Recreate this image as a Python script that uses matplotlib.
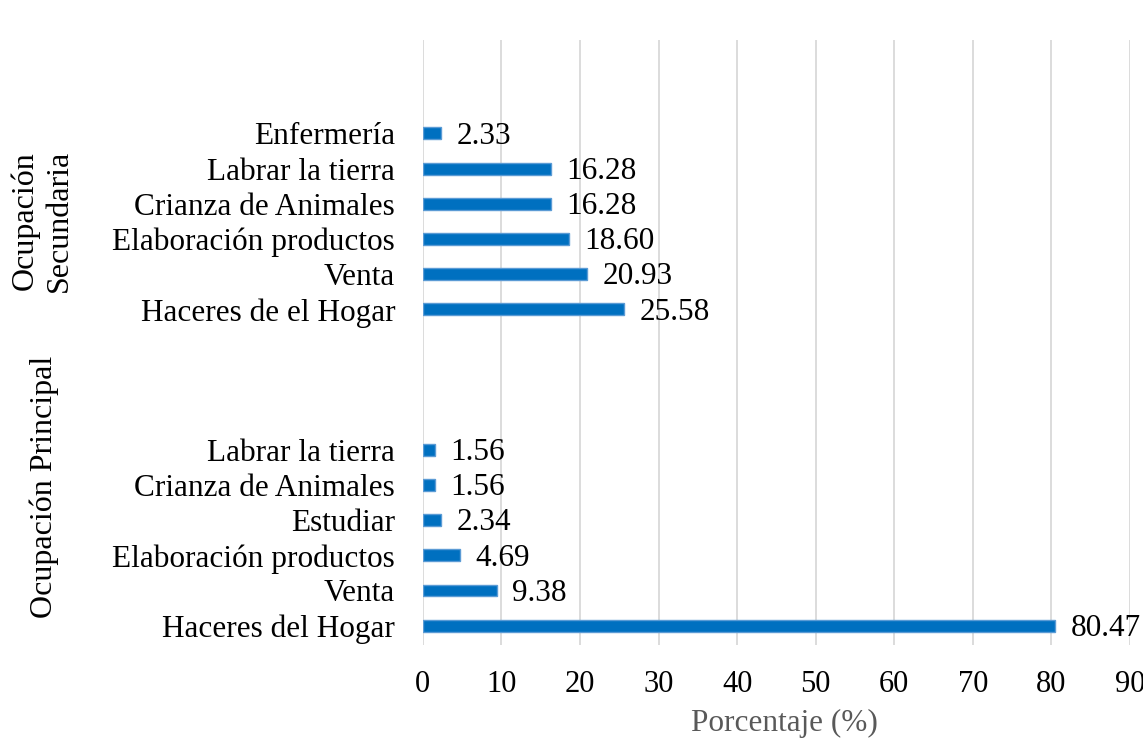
import numpy as np
import matplotlib
matplotlib.use('Agg')
import matplotlib.pyplot as plt

plt.rcParams['font.family'] = ['Liberation Serif', 'DejaVu Serif']

# data, bottom to top
principal_labels = ['Haceres del Hogar', 'Venta', 'Elaboración productos',
                    'Estudiar', 'Crianza de Animales', 'Labrar la tierra']
principal_values = [80.47, 9.38, 4.69, 2.34, 1.56, 1.56]
secundaria_labels = ['Haceres de el Hogar', 'Venta', 'Elaboración productos',
                     'Crianza de Animales', 'Labrar la tierra', 'Enfermería']
secundaria_values = [25.58, 20.93, 18.60, 16.28, 16.28, 2.33]
group_names = ['Ocupación Principal', 'Ocupación\nSecundaria']

labels = principal_labels + secundaria_labels
values = principal_values + secundaria_values
pos = np.concatenate([np.arange(6), np.arange(6) + 9])

fig = plt.figure(figsize=(11.43, 7.4), dpi=100)
ax = fig.add_axes([0.370, 0.1284, 0.6186, 0.8176])

ax.barh(pos, values, height=0.34, color='#0070C0', edgecolor='#5B9BD5',
        linewidth=1.0, zorder=3)
for p, v in zip(pos, values):
    ax.annotate('%.2f' % v, (v, p), xytext=(11, -2), textcoords='offset points',
                va='center', ha='left', fontsize=22.5)

ax.set_xlim(0, 90)
ax.set_ylim(-0.55, 16.66)
ax.set_xticks(np.arange(0, 91, 10))
ax.set_yticks(pos)
ax.set_yticklabels(labels)
ax.tick_params(axis='both', length=0)
ax.tick_params(axis='y', pad=20, labelsize=22.5)
ax.tick_params(axis='x', pad=18, labelsize=22)
ax.grid(axis='x', color='#d9d9d9', linewidth=1.3, zorder=0)
for s in ax.spines.values():
    s.set_visible(False)

ax.set_xlabel('Porcentaje (%)', fontsize=22.5, color='#595959')
ax.xaxis.set_label_coords(0.511, -0.105)

fig.text(44 / 1143, 1 - 487 / 740, group_names[0], rotation=90,
         ha='center', va='center', fontsize=23)
fig.text(42 / 1143, 1 - 221 / 740, group_names[1], rotation=90,
         ha='center', va='center', fontsize=23, multialignment='center')

fig.savefig('out.png', dpi=100)
